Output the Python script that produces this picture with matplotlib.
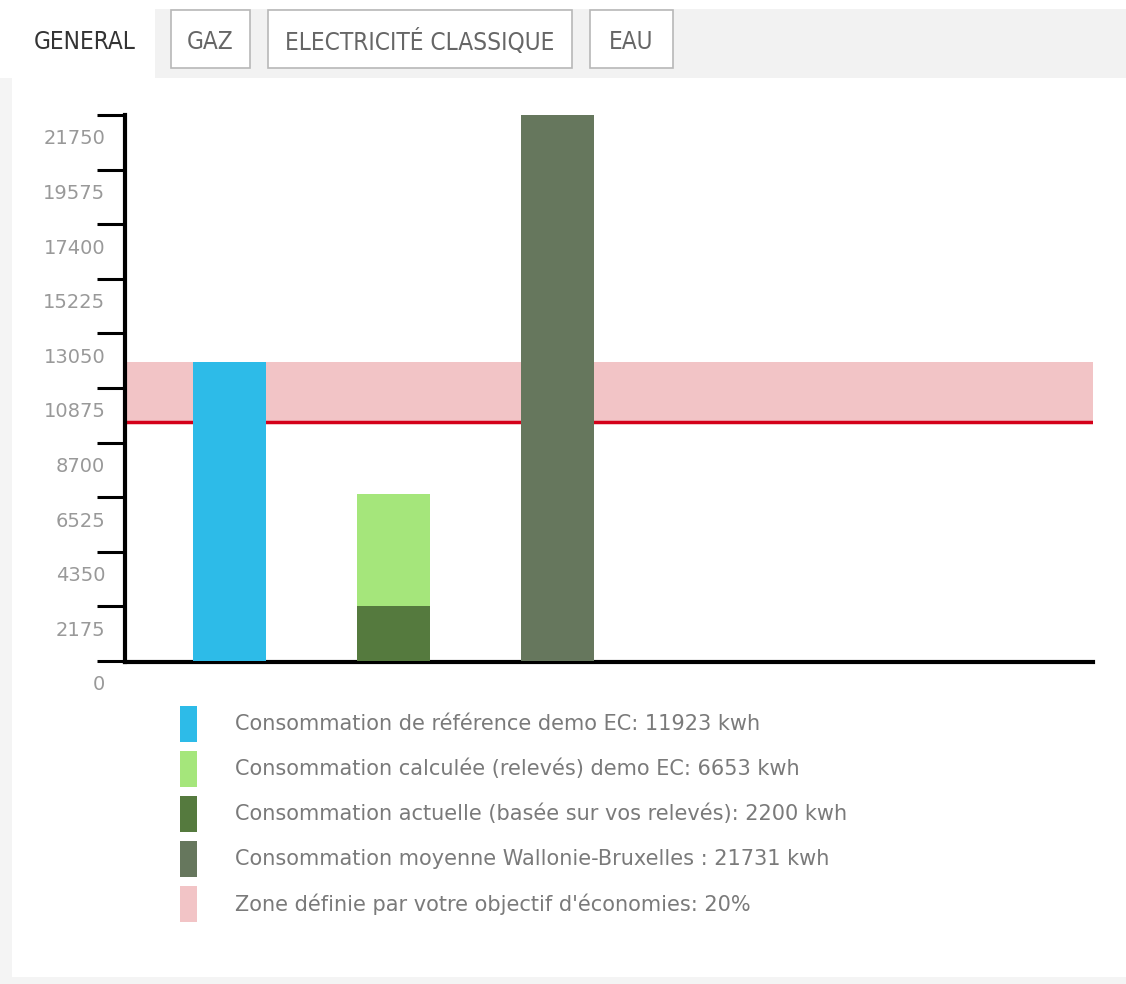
import matplotlib
matplotlib.use('Agg')
import matplotlib.pyplot as plt
from matplotlib.patches import Rectangle
from matplotlib.transforms import ScaledTranslation

# donnees
categories = ['reference', 'calculee', 'moyenne']
reference = 11923
calculee = 6653
actuelle = 2200
moyenne = 21731
objectif = 0.20
yticks = [0, 2175, 4350, 6525, 8700, 10875, 13050, 15225, 17400, 19575, 21750]
tabs = ['GENERAL', 'GAZ', 'ELECTRICITÉ CLASSIQUE', 'EAU']
legend_labels = [
    "Consommation de référence demo EC: 11923 kwh",
    "Consommation calculée (relevés) demo EC: 6653 kwh",
    "Consommation actuelle (basée sur vos relevés): 2200 kwh",
    "Consommation moyenne Wallonie-Bruxelles : 21731 kwh",
    "Zone définie par votre objectif d'économies: 20%",
]

c_blue = '#2dbbe8'
c_light = '#a5e67b'
c_dark = '#557a3e'
c_grey = '#66775d'
c_pink = '#f2c4c6'
c_red = '#d40019'
legend_colors = [c_blue, c_light, c_dark, c_grey, c_pink]

W, H = 1126, 984
fig = plt.figure(figsize=(W / 100, H / 100), dpi=100)
fig.patch.set_facecolor('white')

def fx(px):
    return px / W

def fy(py):
    return 1 - py / H

def box(x0, y0, x1, y1, **kw):
    fig.patches.append(Rectangle((fx(x0), fy(y1)), fx(x1) - fx(x0), fy(y0) - fy(y1),
                                 transform=fig.transFigure, **kw))

# cadre de la page
box(0, 78, 12, 984, facecolor='#f4f4f4', edgecolor='none', zorder=0)
box(0, 977, W, 984, facecolor='#f4f4f4', edgecolor='none', zorder=0)
box(155, 9, W, 78, facecolor='#f2f2f2', edgecolor='none', zorder=0)

# onglets
tab_font = dict(family='DejaVu Sans', stretch='condensed', fontsize=17.5)
tab_boxes = [None, (171, 250), (268, 572), (590, 673)]
fig.text(fx(85), fy(42), tabs[0], ha='center', va='center', color='#333333', **tab_font)
for name, b in zip(tabs[1:], tab_boxes[1:]):
    box(b[0], 10, b[1], 68, facecolor='white', edgecolor='#b8b8b8', linewidth=1.2, zorder=1)
    fig.text(fx((b[0] + b[1]) / 2), fy(42), name, ha='center', va='center',
             color='#666666', zorder=2, **tab_font)

# graphique
ax = fig.add_axes([fx(125), fy(662), fx(1093) - fx(125), fy(115) - fy(662)])
x = list(range(len(categories)))
w = 0.445
low = reference * (1 - objectif)
ax.axhspan(low, reference, color=c_pink, zorder=1, lw=0)
ax.axhline(low, color=c_red, lw=2.5, zorder=2)
ax.bar(x[0], reference, width=w, color=c_blue, zorder=3)
ax.bar(x[1], calculee, width=w, color=c_light, zorder=3)
ax.bar(x[1], actuelle, width=w, color=c_dark, zorder=4)
ax.bar(x[2], moyenne, width=w, color=c_grey, zorder=3)

ax.set_xlim(-0.637, 5.265)
ax.set_ylim(-40, 21750)
ax.set_facecolor('none')
for s in ['top', 'right']:
    ax.spines[s].set_visible(False)
for s in ['left', 'bottom']:
    ax.spines[s].set_linewidth(3)
    ax.spines[s].set_color('black')
ax.set_xticks([])
ax.set_yticks(yticks, [str(v) for v in yticks])
ax.tick_params(axis='y', direction='out', length=20, width=2.2, color='black',
               pad=-5.8, labelsize=14, labelcolor='#999999')
offset = ScaledTranslation(0, -0.22, fig.dpi_scale_trans)
for lbl in ax.get_yticklabels():
    lbl.set_transform(lbl.get_transform() + offset)

# legende
for i, (lab, col) in enumerate(zip(legend_labels, legend_colors)):
    yc = 724 + 45 * i
    box(180, yc - 18, 197, yc + 18, facecolor=col, edgecolor='none', zorder=1)
    fig.text(fx(235), fy(yc), lab, ha='left', va='center', fontsize=15, color='#7a7a7a')

fig.savefig('out.png', dpi=100)
